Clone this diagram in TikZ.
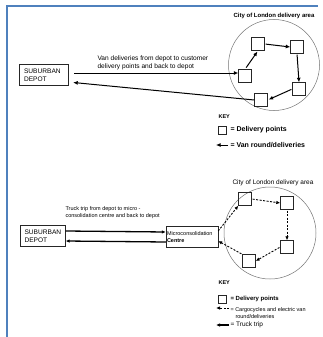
\documentclass[tikz,border=0pt]{standalone}
\usepackage{fontspec}
\setmainfont{Liberation Sans}
\usetikzlibrary{arrows.meta}
\definecolor{framecol}{RGB}{79,129,189}
\tikzset{point/.style={draw,black!85,minimum size=13pt,inner sep=0pt},
 keypoint/.style={draw,black!85,minimum size=8pt,inner sep=0pt},
 depotbox/.style={draw,black!85,text=black,minimum height=21pt,align=left,inner sep=1.5pt},
 area/.style={draw,circle,black!55,line width=0.5pt},
 van/.style={-{Latex[length=4.5pt,width=4pt]},line width=1pt},
 cycle/.style={-{Latex[length=4pt,width=3.5pt]},dash pattern=on 2pt off 1.5pt,line width=0.9pt},
 truck/.style={-{Latex[length=4pt,width=3.5pt]},line width=1.3pt},
 bigtext/.style={font=\fontsize{6.6}{8}\selectfont},
 keytext/.style={font=\fontsize{7}{8}\selectfont\bfseries},
 every node/.style={font=\fontsize{5.5}{7}\selectfont}}
\begin{document}
\begin{tikzpicture}[x=1pt,y=-1pt]
\useasboundingbox (0,0) rectangle (323,337);
\draw[framecol,line width=2pt] (6.5,337) -- (6.5,6) -- (318,6);
% van round
\node[font=\fontsize{6}{7}\selectfont\bfseries] (title1) at (274,16) {City of London delivery area};
\node[area,minimum size=91pt] (area1) at (274,65) {};
\node[depotbox,bigtext,minimum width=49pt,text width=39pt,inner xsep=5pt] (depot1) at (43.5,75) {SUBURBAN\\DEPOT};
\node[point] (p1) at (258,44) {};
\node[point] (p2) at (297,47) {};
\node[point] (p3) at (299,89) {};
\node[point] (p4) at (261,100) {};
\node[point] (p5) at (245,76) {};
\draw[van,shorten <=6pt] ([yshift=2pt]depot1.east) -- ([yshift=3pt]p5.west);
\draw[van,shorten >=5pt] (p4.west) -- ([yshift=-7pt]depot1.east);
\draw[van,shorten <=2pt,shorten >=1pt] (p5.north) -- (p1.south);
\draw[van,shorten <=1pt] (p1.east) -- (p2.west);
\draw[van,shorten <=1pt] (p2.south) -- (p3.north);
\draw[van,shorten <=1pt,shorten >=1pt] (p3.west) -- (p4.east);
\node[bigtext,anchor=north west,align=left] (vanlabel) at (94,52) {Van deliveries from depot to customer\\delivery points and back to depot};
\node[anchor=west,font=\fontsize{5.5}{6}\selectfont\bfseries] (key1) at (215,117) {KEY};
\node[keypoint] (kp1) at (222,130) {};
\node[keytext,anchor=west] (kl1) at (227,130) {= Delivery points};
\coordinate (ka1) at (228,145);
\coordinate (kb1) at (216,145);
\draw[van] (ka1) -- (kb1);
\node[keytext,anchor=west] (kl2) at (227,145) {= Van round/deliveries};
% micro-consolidation
\node[font=\fontsize{6.5}{7}\selectfont] (title2) at (273,183) {City of London delivery area};
\node[area,minimum size=92pt] (area2) at (270,233) {};
\node[depotbox,bigtext,minimum width=44pt,text width=37pt,inner xsep=4pt] (depot2) at (43,236) {SUBURBAN\\DEPOT};
\node[depotbox,minimum width=52pt,text width=50pt,inner sep=1pt] (micro) at (192,237) {Microconsolidation\\\textbf{Centre}};
\node[point] (q1) at (245,199) {};
\node[point] (q2) at (287,203) {};
\node[point] (q3) at (287,247) {};
\node[point] (q4) at (249,261) {};
\draw[truck] ([yshift=5pt]depot2.east) -- ([yshift=5pt]micro.west);
\draw[truck] ([yshift=-5pt]micro.west) -- ([yshift=-5pt]depot2.east);
\draw[cycle] ([yshift=6pt]micro.east) -- (q1.south west);
\draw[cycle,shorten <=1pt] (q1.east) -- (q2.west);
\draw[cycle,shorten <=1pt] (q2.south) -- (q3.north);
\draw[cycle,shorten <=1pt] (q3.west) -- (q4.east);
\draw[cycle,shorten <=1pt] (q4.north west) -- ([yshift=-4pt]micro.east);
\node[anchor=north west,align=left] (trucklabel) at (62,203) {Truck trip from depot to micro -\\consolidation centre and back to depot};
\node[anchor=west,font=\fontsize{5.5}{6}\selectfont\bfseries] (key2) at (215,283) {KEY};
\node[keypoint] (kp2) at (222,299) {};
\node[anchor=west,font=\fontsize{6}{7}\selectfont\bfseries] (kl3) at (227,299) {= Delivery points};
\coordinate (ka2) at (229,308);
\coordinate (kb2) at (216,308);
\draw[cycle] (ka2) -- (kb2);
\node[anchor=north west,align=left] (kl4) at (227,304) {= Cargocycles and electric van\\\hspace{5pt}round/deliveries};
\coordinate (ka3) at (229,325);
\coordinate (kb3) at (216,325);
\draw[truck] (ka3) -- (kb3);
\node[anchor=west,font=\fontsize{6.5}{7}\selectfont] (kl5) at (227,325) {= Truck trip};
\end{tikzpicture}
\end{document}
